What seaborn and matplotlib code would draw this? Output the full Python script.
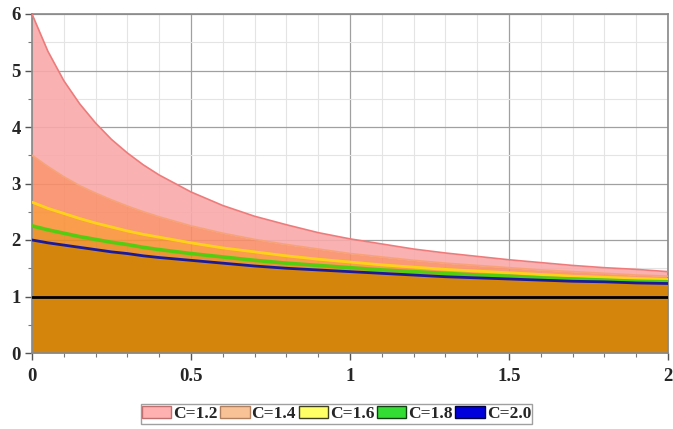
import numpy as np
import pandas as pd
import matplotlib
matplotlib.use("Agg")
import matplotlib.pyplot as plt
from matplotlib.patches import Patch
from matplotlib.ticker import MultipleLocator
import seaborn as sns

# ---- data ----
x = [0, 0.05, 0.1, 0.15, 0.2, 0.25, 0.3, 0.35, 0.4, 0.5, 0.6, 0.7, 0.8, 0.9,
     1.0, 1.1, 1.2, 1.3, 1.4, 1.5, 1.6, 1.7, 1.8, 1.9, 2.0]
c12 = [6.00, 5.34, 4.82, 4.41, 4.07, 3.78, 3.54, 3.33, 3.15, 2.85, 2.61, 2.42, 2.27, 2.13,
       2.02, 1.93, 1.84, 1.77, 1.71, 1.65, 1.60, 1.55, 1.51, 1.48, 1.44]
c14 = [3.50, 3.30, 3.12, 2.96, 2.83, 2.71, 2.60, 2.50, 2.41, 2.25, 2.12, 2.01, 1.92, 1.84,
       1.76, 1.70, 1.64, 1.59, 1.55, 1.51, 1.47, 1.44, 1.41, 1.38, 1.36]
c16 = [2.67, 2.56, 2.47, 2.38, 2.30, 2.23, 2.16, 2.10, 2.05, 1.95, 1.86, 1.79, 1.72, 1.66,
       1.61, 1.56, 1.52, 1.48, 1.45, 1.42, 1.39, 1.36, 1.34, 1.32, 1.30]
c18 = [2.25, 2.18, 2.12, 2.06, 2.01, 1.96, 1.92, 1.87, 1.83, 1.76, 1.70, 1.64, 1.59, 1.55,
       1.51, 1.47, 1.44, 1.41, 1.38, 1.36, 1.33, 1.31, 1.29, 1.27, 1.26]
c20 = [2.00, 1.95, 1.91, 1.87, 1.83, 1.79, 1.76, 1.72, 1.69, 1.64, 1.59, 1.54, 1.50, 1.47,
       1.44, 1.41, 1.38, 1.35, 1.33, 1.31, 1.29, 1.27, 1.26, 1.24, 1.23]
labels = ["C=1.2", "C=1.4", "C=1.6", "C=1.8", "C=2.0"]
series = [c12, c14, c16, c18, c20]
ref_level = 1.0

line_colors = ["#ee7b7b", "#f7a277", "#ffd21a", "#55cc11", "#1a1a9c"]
line_widths = [1.2, 1.2, 2.0, 2.6, 2.0]
band_colors = ["#f9a9a9", "#f98e68", "#fa9238", "#e98a1e"]
bottom_color = "#d4850c"
legend_fc = ["#ffb0b0", "#f9c296", "#ffff66", "#33dd33", "#0000dd"]
legend_ec = ["#c07070", "#b08060", "#404020", "#104010", "#000040"]

df = pd.DataFrame({"x": np.repeat([x], len(labels), axis=0).ravel(),
                   "y": np.concatenate(series),
                   "C": np.repeat(labels, len(x))})

sns.set_style("white")
plt.rcParams["font.family"] = ["Liberation Serif", "DejaVu Serif"]

fig = plt.figure(figsize=(6.73, 4.29), dpi=100)
ax = fig.add_axes([32 / 673, 1 - 353 / 429, 636 / 673, 339 / 429])

# grid
ax.set_axisbelow(True)
ax.xaxis.set_major_locator(MultipleLocator(0.5))
ax.xaxis.set_minor_locator(MultipleLocator(0.1))
ax.yaxis.set_major_locator(MultipleLocator(1))
ax.yaxis.set_minor_locator(MultipleLocator(0.5))
ax.grid(which="major", color="#a0a0a0", lw=0.9, zorder=0)
ax.grid(which="minor", color="#e4e4e4", lw=0.8, zorder=0)

# filled bands
for i in range(4):
    ax.fill_between(x, series[i + 1], series[i], color=band_colors[i], alpha=0.9,
                    lw=0, zorder=1)
ax.fill_between(x, 0, c20, color=bottom_color, lw=0, zorder=1)

# curves
sns.lineplot(data=df, x="x", y="y", hue="C", palette=line_colors, ax=ax,
             legend=False, zorder=3, sort=False)
for ln, w in zip(ax.lines, line_widths):
    ln.set_linewidth(w)
ax.axhline(ref_level, color="black", lw=2.0, zorder=4)

ax.set_xlim(0, 2)
ax.set_ylim(0, 6)
ax.set_xlabel("")
ax.set_ylabel("")
for s in ax.spines.values():
    s.set_color("#888888")
    s.set_linewidth(1.2)
ax.tick_params(which="major", direction="out", length=5, width=1, color="#555555",
               labelsize=13.5, pad=3)
ax.tick_params(which="minor", direction="out", length=3, width=0.8, color="#777777")
ax.tick_params(axis="x", which="both", bottom=True, top=False)
ax.tick_params(axis="y", which="both", left=True, right=False)
ax.tick_params(axis="x", which="major", pad=6)
ax.set_xticks([0, 0.5, 1, 1.5, 2])
ax.set_xticklabels(["0", "0.5", "1", "1.5", "2"])
for t in ax.get_xticklabels() + ax.get_yticklabels():
    t.set_fontweight("bold")

handles = [Patch(facecolor=fc, edgecolor=ec, lw=1.0) for fc, ec in zip(legend_fc, legend_ec)]
leg = fig.legend(handles, labels, loc="center", bbox_to_anchor=(0.5, 15 / 429), ncol=5,
                 frameon=True, fancybox=False, edgecolor="#888888",
                 prop={"weight": "bold", "size": 12.5}, handlelength=1.7,
                 handleheight=0.72, handletextpad=0.1, columnspacing=0.15,
                 borderpad=0.08, borderaxespad=0)
leg.get_frame().set_linewidth(1.0)

fig.savefig("out.png", dpi=100)
